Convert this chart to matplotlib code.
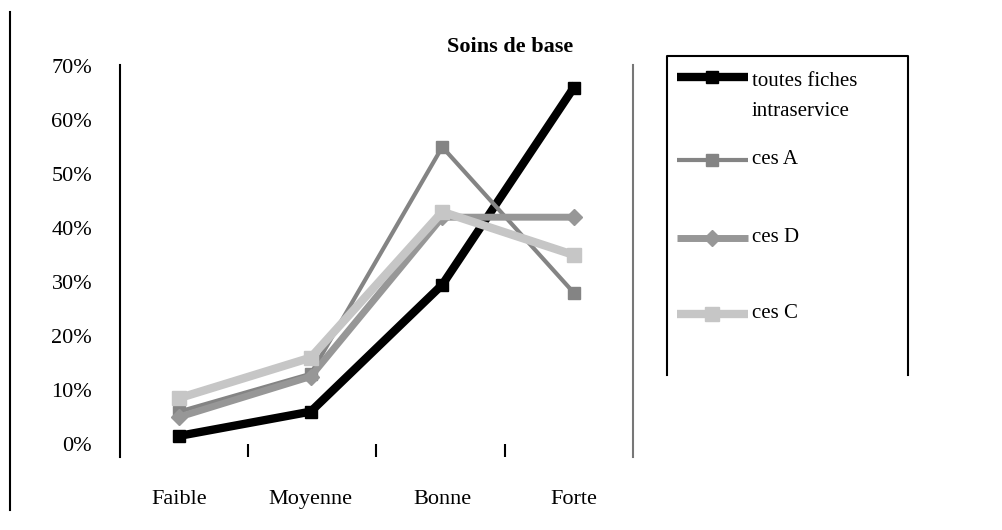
import matplotlib.pyplot as plt
from matplotlib.lines import Line2D

plt.rcParams["font.family"] = ["Liberation Serif", "DejaVu Serif"]

# Share of answers per level, in percent
categories = ["Faible", "Moyenne", "Bonne", "Forte"]
toutes = [1.5, 6, 29.5, 66]
ces_a = [6, 13, 55, 28]
ces_d = [5, 12.5, 42, 42]
ces_c = [8.5, 16, 43, 35]
yticks = [0, 10, 20, 30, 40, 50, 60, 70]

series = [
    ("toutes fiches\nintraservice", toutes, "black", 6, "s", 8.5),
    ("ces A", ces_a, "#848484", 3, "s", 8.5),
    ("ces D", ces_d, "#979797", 5, "D", 8),
    ("ces C", ces_c, "#c6c6c6", 6, "s", 9.5),
]

W, H = 1003, 530
fig = plt.figure(figsize=(W / 100, H / 100), dpi=100)

# plot area
ax = fig.add_axes([120 / W, 73 / H, 513 / W, 392 / H])
x = range(len(categories))
for label, vals, color, lw, mk, ms in series:
    ax.plot(x, vals, color=color, lw=lw, marker=mk, ms=ms,
            solid_joinstyle="miter")

x0, x1 = -0.45, len(categories) - 0.55
ax.set_xlim(x0, x1)
ax.set_ylim(-13 / 5.4, 70 + 1 / 5.4)
ax.set_yticks(yticks)
ax.set_yticklabels([f"{v}%" for v in yticks], fontsize=16)
ax.tick_params(axis="y", length=0, pad=20)

ax.set_xticks(list(x))
ax.set_xticklabels(categories, fontsize=16)
# dividers split the axis into equal slots
step = (x1 - x0) / len(categories)
ax.set_xticks([x0 + step * k for k in range(1, len(categories))], minor=True)
ax.tick_params(axis="x", which="major", length=0, pad=24)
ax.tick_params(axis="x", which="minor", direction="in", length=9.4,
               width=1.5, color="black")

ax.spines["top"].set_visible(False)
ax.spines["bottom"].set_visible(False)
ax.spines["left"].set_linewidth(1.5)
ax.spines["right"].set_linewidth(1.5)
ax.spines["right"].set_color("#777777")

fig.text(510 / W, 1 - 47 / H, "Soins de base", ha="center", va="center",
         fontsize=16, fontweight="bold")

# overlay in pixel coordinates for the frame and the legend
ov = fig.add_axes([0, 0, 1, 1], zorder=-1)
ov.set_xlim(0, W)
ov.set_ylim(H, 0)
ov.axis("off")
ov.add_line(Line2D([10, 10], [12, 510], color="black", lw=1.5))

# legend box, open at the bottom
ov.add_line(Line2D([667, 667, 908, 908], [375, 56, 56, 375],
                   color="black", lw=1.5))
leg_y = [77, 160, 238, 314]
for (label, vals, color, lw, mk, ms), yy in zip(series, leg_y):
    ov.plot([677, 748], [yy, yy], color=color, lw=lw, solid_capstyle="butt")
    ov.plot([712], [yy], color=color, marker=mk, ms=ms)
    ov.text(752, yy - 5 if "\n" in label else yy, label, ha="left",
            va="top" if "\n" in label else "center",
            fontsize=15, linespacing=1.75)

fig.savefig("out.png", dpi=100)
